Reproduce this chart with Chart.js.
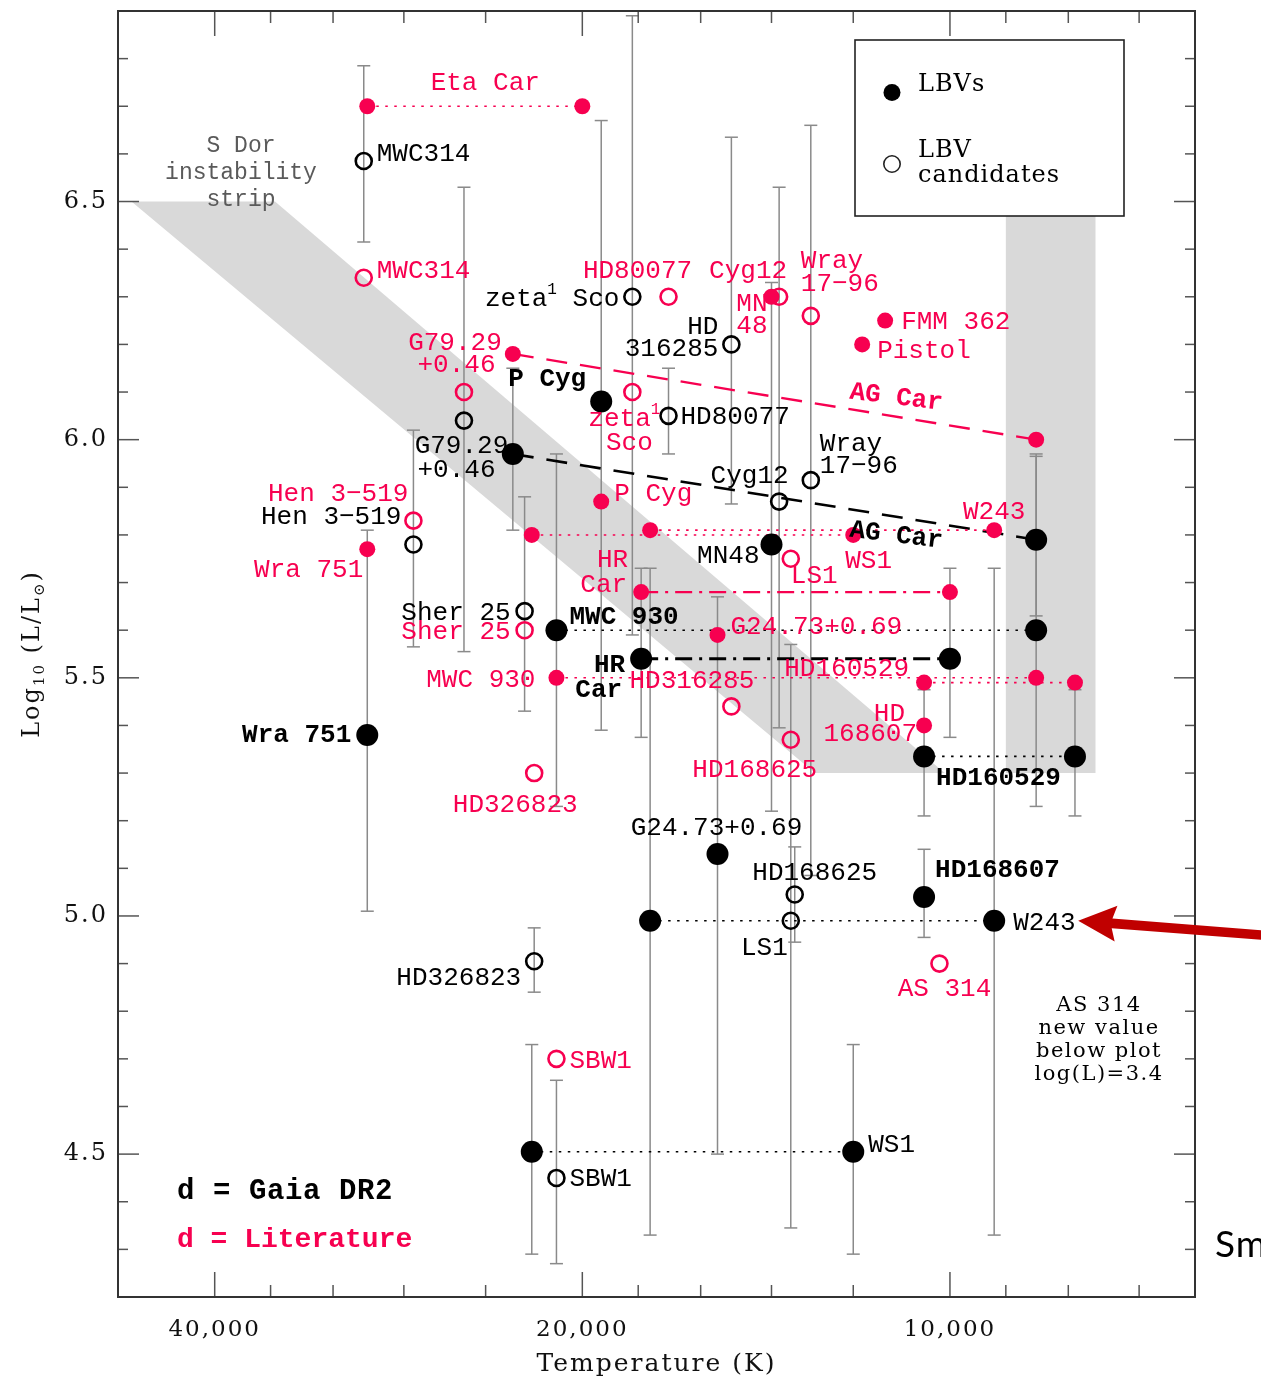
<!DOCTYPE html>
<html>
<head>
<meta charset="utf-8">
<script src="https://cdn.jsdelivr.net/npm/chart.js@4.4.1/dist/chart.umd.min.js"></script>
<style>
  html, body { margin: 0; padding: 0; background: #fff; overflow: hidden; }
  canvas { display: block; }
</style>
</head>
<body>
<canvas id="hrd" width="1261" height="1382"></canvas>
<script>
// ---------------- axes ----------------
const tempTicks = [40000, 36000, 32000, 28000, 24000, 20000, 18000, 16000, 14000, 12000, 10000, 9000, 8000, 7000];
const tempTickLabels = { 40000: '40,000', 20000: '20,000', 10000: '10,000' };
const lumTicks = [4.5, 5.0, 5.5, 6.0, 6.5];
const lumTickLabels = ['4.5', '5.0', '5.5', '6.0', '6.5'];

// ---------------- LBVs, Gaia DR2 distances ----------------
const lbvGaiaNames = ['Wra 751', 'AG Car', 'AG Car', 'P Cyg', 'MN48', 'MWC 930', 'MWC 930', 'HR Car', 'HR Car',
  'G24.73+0.69', 'HD160529', 'HD160529', 'HD168607', 'W243', 'W243', 'WS1', 'WS1'];
const lbvGaiaTemp = [30000, 22800, 8500, 19300, 14000, 21000, 8500, 17900, 10000, 15500, 10500, 7900, 10500, 17600, 9200, 22000, 12000];
const lbvGaiaLum = [5.38, 5.97, 5.79, 6.08, 5.78, 5.60, 5.60, 5.54, 5.54, 5.13, 5.335, 5.335, 5.04, 4.99, 4.99, 4.505, 4.505];
const lbvGaiaLumLo = [5.01, 5.81, 5.63, 5.39, 5.22, 5.23, 5.23, 5.375, 5.375, 4.50, 5.21, 5.21, 4.955, 4.33, 4.33, 4.29, 4.29];
const lbvGaiaLumHi = [5.81, 6.15, 5.965, 6.67, 6.33, 5.97, 5.97, 5.73, 5.73, 5.67, 5.475, 5.475, 5.14, 5.73, 5.73, 4.73, 4.73];

// ---------------- LBV candidates, Gaia DR2 distances ----------------
const candGaiaNames = ['MWC314', 'Hen 3-519', 'G79.29+0.46', 'Sher 25', 'zeta1 Sco', 'HD80077', 'HD316285', 'Cyg12',
  'Wray 17-96', 'LS1', 'HD168625', 'HD326823', 'SBW1'];
const candGaiaTemp = [30200, 27500, 25000, 22300, 18200, 17000, 15100, 13800, 13000, 13500, 13400, 21900, 21000];
const candGaiaLum = [6.585, 5.78, 6.04, 5.64, 6.30, 6.05, 6.20, 5.87, 5.915, 4.99, 5.045, 4.905, 4.45];
const candGaiaLumLo = [6.415, 5.565, 5.555, 5.43, 5.59, 5.97, 5.865, 5.395, 5.085, 4.345, 4.945, 4.84, 4.27];
const candGaiaLumHi = [6.785, 6.02, 6.53, 5.88, 6.89, 6.15, 6.635, 6.53, 6.66, 5.57, 5.145, 4.975, 4.655];

// ---------------- LBVs, literature distances ----------------
const lbvLitNames = ['Eta Car', 'Eta Car', 'AG Car', 'AG Car', 'Wra 751', 'P Cyg', 'WS1', 'WS1', 'W243', 'W243', 'HR Car', 'HR Car',
  'G24.73+0.69', 'MWC 930', 'MWC 930', 'HD160529', 'HD160529', 'HD168607', 'FMM 362', 'Pistol', 'MN48'];
const lbvLitTemp = [30000, 20000, 22800, 8500, 30000, 19300, 22000, 12000, 17600, 9200, 17900, 10000,
  15500, 21000, 8500, 10500, 7900, 10500, 11300, 11800, 14000];
const lbvLitLum = [6.70, 6.70, 6.18, 6.00, 5.77, 5.87, 5.80, 5.80, 5.81, 5.81, 5.68, 5.68,
  5.59, 5.50, 5.50, 5.49, 5.49, 5.40, 6.25, 6.20, 6.30];

// ---------------- LBV candidates, literature distances ----------------
const candLitNames = ['MWC314', 'HD80077', 'Cyg12', 'Wray 17-96', 'G79.29+0.46', 'zeta1 Sco', 'HD316285', 'Hen 3-519',
  'Sher 25', 'HD326823', 'LS1', 'HD168625', 'SBW1', 'AS 314'];
const candLitTemp = [30200, 17000, 13800, 13000, 25000, 18200, 15100, 27500, 22300, 21900, 13500, 13500, 21000, 10200];
const candLitLum = [6.34, 6.30, 6.30, 6.26, 6.10, 6.10, 5.44, 5.83, 5.60, 5.30, 5.75, 5.37, 4.70, 4.90];

// ---------------- S Dor instability strip ----------------
const stripTemp = [46800, 35700, 10100, 12900];
const stripLum = [6.5, 6.5, 5.3, 5.3];
const coolBandTemp = [9000, 7600, 7600, 9000];
const coolBandLum = [6.5, 6.5, 5.3, 5.3];

// stars observed in two states, joined by a line
const lbvLitLinks = [['Eta Car', 'dot'], ['AG Car', 'dash'], ['WS1', 'dot'], ['W243', 'dot'],
  ['HR Car', 'dashdot'], ['MWC 930', 'dot'], ['HD160529', 'dot']];
const lbvGaiaLinks = [['AG Car', 'dash'], ['HR Car', 'dashdot'], ['MWC 930', 'dot'], ['HD160529', 'dot'],
  ['W243', 'dot'], ['WS1', 'dot']];

// ---------------- styling ----------------
const PINK = '#f70050';
const INK = '#000000';
const BAR = '#8a8a8a';
const MONO = '"Liberation Mono", "DejaVu Sans Mono", monospace';
const SERIF = '"DejaVu Serif", "Liberation Serif", serif';

const sets = {
  gl: { names: lbvGaiaNames, temp: lbvGaiaTemp, lum: lbvGaiaLum },
  gc: { names: candGaiaNames, temp: candGaiaTemp, lum: candGaiaLum },
  ll: { names: lbvLitNames, temp: lbvLitTemp, lum: lbvLitLum },
  lc: { names: candLitNames, temp: candLitTemp, lum: candLitLum }
};

function nthIndex(names, star, n) {
  let c = -1;
  for (let i = 0; i < names.length; i++) if (names[i] === star && ++c === n) return i;
  return -1;
}

const dashes = {
  dot: [2.5, 6.5],
  dash: [21, 13],
  dashdot: [17, 7, 3, 7]
};

function linkDatasets(set, links, color, widths) {
  return links.map(([star, style]) => {
    const a = nthIndex(set.names, star, 0), b = nthIndex(set.names, star, 1);
    return {
      type: 'line',
      label: star,
      data: [{ x: set.temp[a], y: set.lum[a] }, { x: set.temp[b], y: set.lum[b] }],
      borderColor: color,
      borderWidth: widths[style],
      borderDash: dashes[style],
      pointRadius: 0,
      pointHoverRadius: 0,
      fill: false,
      tension: 0,
      order: 5
    };
  });
}

const points = (t, l) => t.map((v, i) => ({ x: v, y: l[i] }));

const datasets = [
  ...linkDatasets(sets.ll, lbvLitLinks, PINK, { dot: 1.6, dash: 2.4, dashdot: 2.2 }),
  ...linkDatasets(sets.gl, lbvGaiaLinks, INK, { dot: 1.6, dash: 2.6, dashdot: 3.2 }),
  {
    label: 'LBVs (Gaia DR2)', data: points(lbvGaiaTemp, lbvGaiaLum),
    pointRadius: 11, pointHoverRadius: 11, pointBackgroundColor: INK, pointBorderColor: INK, pointBorderWidth: 0, order: 4
  },
  {
    label: 'LBV candidates (Gaia DR2)', data: points(candGaiaTemp, candGaiaLum),
    pointRadius: 8, pointHoverRadius: 8, pointBackgroundColor: 'rgba(0,0,0,0)', pointBorderColor: INK, pointBorderWidth: 2.6, order: 3
  },
  {
    label: 'LBVs (literature)', data: points(lbvLitTemp, lbvLitLum),
    pointRadius: 8, pointHoverRadius: 8, pointBackgroundColor: PINK, pointBorderColor: PINK, pointBorderWidth: 0, order: 2
  },
  {
    label: 'LBV candidates (literature)', data: points(candLitTemp, candLitLum),
    pointRadius: 8, pointHoverRadius: 8, pointBackgroundColor: 'rgba(0,0,0,0)', pointBorderColor: PINK, pointBorderWidth: 2.6, order: 1
  }
];

// ---------------- star labels: [set, star, occurrence, text, dx, dy, align, colour, bold, rotation] ----------------
const starLabels = [
  ['gl', 'Wra 751', 0, 'Wra 751', -16, 0, 'right', 'k', 1],
  ['gl', 'AG Car', 1, 'AG Car', -140, -4, 'center', 'k', 1, 7],
  ['gl', 'P Cyg', 0, 'P Cyg', -15, -22, 'right', 'k', 1],
  ['gl', 'MN48', 0, 'MN48', -12, 12, 'right', 'k', 0],
  ['gl', 'MWC 930', 0, 'MWC 930', 13, -13, 'left', 'k', 1],
  ['gl', 'HR Car', 0, 'HR', -16, 7, 'right', 'k', 1],
  ['gl', 'HR Car', 0, 'Car', -19, 32, 'right', 'k', 1],
  ['gl', 'G24.73+0.69', 0, 'G24.73+0.69', -1, -26, 'center', 'k', 0],
  ['gl', 'HD160529', 0, 'HD160529', 12, 22, 'left', 'k', 1],
  ['gl', 'HD168607', 0, 'HD168607', 11, -26, 'left', 'k', 1],
  ['gl', 'W243', 1, 'W243', 19, 2, 'left', 'k', 0],
  ['gl', 'WS1', 1, 'WS1', 15, -7, 'left', 'k', 0],

  ['gc', 'MWC314', 0, 'MWC314', 13, -7, 'left', 'k', 0],
  ['gc', 'Hen 3-519', 0, 'Hen 3\u2212519', -12, -27, 'right', 'k', 0],
  ['gc', 'G79.29+0.46', 0, 'G79.29', -2.5, 25, 'center', 'k', 0],
  ['gc', 'G79.29+0.46', 0, '+0.46', -7.5, 49, 'center', 'k', 0],
  ['gc', 'Sher 25', 0, 'Sher 25', -14, 2, 'right', 'k', 0],
  ['gc', 'zeta1 Sco', 0, 'zeta^{1} Sco', -13, 2, 'right', 'k', 0],
  ['gc', 'HD80077', 0, 'HD80077', 12, 1, 'left', 'k', 0],
  ['gc', 'HD316285', 0, 'HD', -13, -17, 'right', 'k', 0],
  ['gc', 'HD316285', 0, '316285', -13, 5, 'right', 'k', 0],
  ['gc', 'Cyg12', 0, 'Cyg12', -29.5, -25, 'center', 'k', 0],
  ['gc', 'Wray 17-96', 0, 'Wray', 9, -36, 'left', 'k', 0],
  ['gc', 'Wray 17-96', 0, '17\u221296', 9, -14, 'left', 'k', 0],
  ['gc', 'LS1', 0, 'LS1', -3, 27, 'right', 'k', 0],
  ['gc', 'HD168625', 0, 'HD168625', 20, -21, 'center', 'k', 0],
  ['gc', 'HD326823', 0, 'HD326823', -13, 17, 'right', 'k', 0],
  ['gc', 'SBW1', 0, 'SBW1', 13, 1, 'left', 'k', 0],

  ['ll', 'Eta Car', 0, 'Eta Car', 118, -23, 'center', 'r', 0],
  ['ll', 'AG Car', 1, 'AG Car', -140, -42, 'center', 'r', 1, 7],
  ['ll', 'Wra 751', 0, 'Wra 751', -4, 21, 'right', 'r', 0],
  ['ll', 'P Cyg', 0, 'P Cyg', 13, -7, 'left', 'r', 0],
  ['ll', 'WS1', 1, 'WS1', -8, 26, 'left', 'r', 0],
  ['ll', 'W243', 1, 'W243', 0, -18, 'center', 'r', 0],
  ['ll', 'HR Car', 0, 'HR', -13, -32, 'right', 'r', 0],
  ['ll', 'HR Car', 0, 'Car', -14, -7, 'right', 'r', 0],
  ['ll', 'G24.73+0.69', 0, 'G24.73+0.69', 13, -8, 'left', 'r', 0],
  ['ll', 'MWC 930', 0, 'MWC 930', -21, 2, 'right', 'r', 0],
  ['ll', 'HD160529', 0, 'HD160529', -15, -13, 'right', 'r', 0],
  ['ll', 'HD168607', 0, 'HD', -19, -11, 'right', 'r', 0],
  ['ll', 'HD168607', 0, '168607', -7, 9, 'right', 'r', 0],
  ['ll', 'FMM 362', 0, 'FMM 362', 16, 2, 'left', 'r', 0],
  ['ll', 'Pistol', 0, 'Pistol', 15, 7, 'left', 'r', 0],
  ['ll', 'MN48', 0, 'MN', -4, 7, 'right', 'r', 0],
  ['ll', 'MN48', 0, '48', -4, 29, 'right', 'r', 0],

  ['lc', 'MWC314', 0, 'MWC314', 13, -7, 'left', 'r', 0],
  ['lc', 'HD80077', 0, 'HD80077', -31, -26, 'center', 'r', 0],
  ['lc', 'Cyg12', 0, 'Cyg12', -31, -26, 'center', 'r', 0],
  ['lc', 'Wray 17-96', 0, 'Wray', -10, -55, 'left', 'r', 0],
  ['lc', 'Wray 17-96', 0, '17\u221296', -10, -32, 'left', 'r', 0],
  ['lc', 'G79.29+0.46', 0, 'G79.29', -9, -49, 'center', 'r', 0],
  ['lc', 'G79.29+0.46', 0, '+0.46', -7.5, -27, 'center', 'r', 0],
  ['lc', 'zeta1 Sco', 0, 'zeta^{1}', -8, 27, 'center', 'r', 0],
  ['lc', 'zeta1 Sco', 0, 'Sco', -3, 51, 'center', 'r', 0],
  ['lc', 'HD316285', 0, 'HD316285', -39.5, -25, 'center', 'r', 0],
  ['lc', 'Hen 3-519', 0, 'Hen 3\u2212519', -5, -27, 'right', 'r', 0],
  ['lc', 'Sher 25', 0, 'Sher 25', -14, 2, 'right', 'r', 0],
  ['lc', 'HD326823', 0, 'HD326823', -19, 32, 'center', 'r', 0],
  ['lc', 'LS1', 0, 'LS1', 0, 17, 'left', 'r', 0],
  ['lc', 'HD168625', 0, 'HD168625', -36, 30, 'center', 'r', 0],
  ['lc', 'SBW1', 0, 'SBW1', 13, 2, 'left', 'r', 0],
  ['lc', 'AS 314', 0, 'AS 314', 5, 26, 'center', 'r', 0]
];

// ---------------- text helpers ----------------
function parseRich(s) {
  const parts = [];
  const re = /([\^_])\{([^}]*)\}/g;
  let last = 0, m;
  while ((m = re.exec(s))) {
    if (m.index > last) parts.push({ t: s.slice(last, m.index) });
    parts.push({ t: m[2], sup: m[1] === '^', sub: m[1] === '_' });
    last = re.lastIndex;
  }
  if (last < s.length) parts.push({ t: s.slice(last) });
  return parts;
}

function drawRich(ctx, s, x, y, o) {
  const size = o.size, weight = o.weight || 'normal', scale = o.scriptScale || 0.6;
  const parts = parseRich(s);
  const fontFor = p => `${weight} ${(p.sup || p.sub) ? Math.round(size * scale) : size}px ${o.family}`;
  ctx.letterSpacing = (o.spacing || 0) + 'px';
  let w = 0;
  for (const p of parts) { ctx.font = fontFor(p); p.w = ctx.measureText(p.t).width; w += p.w; }
  let cx = o.align === 'right' ? x - w : o.align === 'center' ? x - w / 2 : x;
  ctx.fillStyle = o.color;
  ctx.textAlign = 'left';
  ctx.textBaseline = 'middle';
  for (const p of parts) {
    ctx.font = fontFor(p);
    const oy = p.sup ? -size * 0.36 : p.sub ? size * 0.3 : 0;
    ctx.fillText(p.t, cx, y + oy);
    cx += p.w;
  }
}

function line(ctx, x1, y1, x2, y2) {
  ctx.beginPath(); ctx.moveTo(x1, y1); ctx.lineTo(x2, y2); ctx.stroke();
}

function fillPolygon(ctx, xs, ys, sx, sy, color) {
  ctx.beginPath();
  xs.forEach((t, i) => {
    const X = sx.getPixelForValue(t), Y = sy.getPixelForValue(ys[i]);
    if (i === 0) ctx.moveTo(X, Y); else ctx.lineTo(X, Y);
  });
  ctx.closePath();
  ctx.fillStyle = color;
  ctx.fill();
}

function drawErrorBars(ctx, sx, sy, temp, lo, hi) {
  ctx.strokeStyle = BAR;
  ctx.lineWidth = 1.5;
  temp.forEach((t, i) => {
    const X = sx.getPixelForValue(t);
    const y1 = sy.getPixelForValue(lo[i]), y2 = sy.getPixelForValue(hi[i]);
    line(ctx, X, y1, X, y2);
    line(ctx, X - 6.5, y1, X + 6.5, y1);
    line(ctx, X - 6.5, y2, X + 6.5, y2);
  });
}

// ---------------- plugin: strip, error bars, labels, frame ----------------
const hrdDecor = {
  id: 'hrdDecor',
  beforeDraw(chart) {
    chart.ctx.letterSpacing = '2px';
  },
  beforeDatasetsDraw(chart) {
    const { ctx, chartArea: a, scales: { x, y } } = chart;
    ctx.save();
    ctx.letterSpacing = '0px';
    ctx.beginPath();
    ctx.rect(a.left, a.top, a.right - a.left, a.bottom - a.top);
    ctx.clip();
    fillPolygon(ctx, stripTemp, stripLum, x, y, '#d9d9d9');
    fillPolygon(ctx, coolBandTemp, coolBandLum, x, y, '#d9d9d9');
    drawErrorBars(ctx, x, y, lbvGaiaTemp, lbvGaiaLumLo, lbvGaiaLumHi);
    drawErrorBars(ctx, x, y, candGaiaTemp, candGaiaLumLo, candGaiaLumHi);
    ctx.restore();
  },
  afterDatasetsDraw(chart) {
    const { ctx, chartArea: a, scales: { x, y } } = chart;
    ctx.save();
    ctx.letterSpacing = '0px';

    // star labels
    for (const [sk, star, n, text, dx, dy, align, col, bold, rot] of starLabels) {
      const s = sets[sk];
      const i = nthIndex(s.names, star, n);
      const X = x.getPixelForValue(s.temp[i]) + dx;
      const Y = y.getPixelForValue(s.lum[i]) + dy;
      const opts = { size: 26, family: MONO, weight: bold ? 'bold' : 'normal', align, color: col === 'r' ? PINK : INK };
      if (rot) {
        ctx.save(); ctx.translate(X, Y); ctx.rotate(rot * Math.PI / 180);
        drawRich(ctx, text, 0, 0, opts);
        ctx.restore();
      } else {
        drawRich(ctx, text, X, Y, opts);
      }
    }

    // strip caption
    const grey = { size: 23, family: MONO, align: 'center', color: '#5a5a5a' };
    drawRich(ctx, 'S Dor', a.left + 123, a.top + 135, grey);
    drawRich(ctx, 'instability', a.left + 123, a.top + 162, grey);
    drawRich(ctx, 'strip', a.left + 123, a.top + 189, grey);

    // distance key
    drawRich(ctx, 'd = Gaia DR2', a.left + 59, a.bottom - 105, { size: 29, family: MONO, weight: 'bold', align: 'left', color: INK, spacing: 0.6 });
    drawRich(ctx, 'd = Literature', a.left + 59, a.bottom - 57, { size: 28, family: MONO, weight: 'bold', align: 'left', color: PINK });

    // note on AS 314
    const note = { size: 21, family: SERIF, align: 'center', color: INK, spacing: 1.5 };
    ['AS 314', 'new value', 'below plot', 'log(L)=3.4'].forEach((t, k) => {
      drawRich(ctx, t, a.right - 96, a.top + 995 + k * 22.8, note);
    });

    // legend box
    const bx = a.right - 340, by = a.top + 29, bw = 269, bh = 176;
    ctx.fillStyle = '#fff';
    ctx.fillRect(bx, by, bw, bh);
    ctx.strokeStyle = '#222';
    ctx.lineWidth = 1.6;
    ctx.strokeRect(bx, by, bw, bh);
    ctx.fillStyle = INK;
    ctx.beginPath(); ctx.arc(bx + 37, by + 52.5, 8.5, 0, Math.PI * 2); ctx.fill();
    ctx.lineWidth = 1.6;
    ctx.beginPath(); ctx.arc(bx + 37, by + 124, 8.2, 0, Math.PI * 2); ctx.stroke();
    const leg = { size: 24, family: SERIF, align: 'left', color: INK, spacing: 1 };
    drawRich(ctx, 'LBVs', bx + 63, by + 45, leg);
    drawRich(ctx, 'LBV', bx + 63, by + 111, leg);
    drawRich(ctx, 'candidates', bx + 63, by + 136, leg);

    // frame and inward ticks
    ctx.strokeStyle = '#555';
    ctx.lineWidth = 1.5;
    for (const t of tempTicks) {
      const X = x.getPixelForValue(t);
      const L = tempTickLabels[t] ? 25 : 12;
      line(ctx, X, a.bottom, X, a.bottom - L);
      line(ctx, X, a.top, X, a.top + L);
    }
    for (let k = 43; k <= 68; k++) {
      const v = k / 10;
      const Y = y.getPixelForValue(v);
      const L = k % 5 === 0 ? 21 : 10;
      line(ctx, a.left, Y, a.left + L, Y);
      line(ctx, a.right, Y, a.right - L, Y);
    }
    ctx.strokeStyle = '#333';
    ctx.lineWidth = 2;
    ctx.strokeRect(a.left, a.top, a.right - a.left, a.bottom - a.top);

    // y axis title
    ctx.save();
    ctx.translate(33, (a.top + a.bottom) / 2);
    ctx.rotate(-Math.PI / 2);
    drawRich(ctx, 'Log_{10} (L/L_{\u2299})', 0, 0, { size: 24, family: SERIF, align: 'center', color: '#111', spacing: 2, scriptScale: 0.62 });
    ctx.restore();

    // arrow pointing at W243
    const wi = nthIndex(lbvGaiaNames, 'W243', 1);
    const tipX = x.getPixelForValue(lbvGaiaTemp[wi]) + 84;
    const tipY = y.getPixelForValue(lbvGaiaLum[wi]);
    const tailX = tipX + 270, tailY = tipY + 21;
    const ang = Math.atan2(tailY - tipY, tailX - tipX);
    ctx.save();
    ctx.translate(tipX, tipY);
    ctx.rotate(ang);
    ctx.fillStyle = '#c00000';
    ctx.beginPath();
    ctx.moveTo(0, 0);
    ctx.lineTo(38, -18);
    ctx.lineTo(34, -4.8);
    ctx.lineTo(300, -4.8);
    ctx.lineTo(300, 4.8);
    ctx.lineTo(34, 4.8);
    ctx.lineTo(38, 18);
    ctx.closePath();
    ctx.fill();
    ctx.restore();

    // caption fragment at the right margin
    ctx.font = '37px Lato, "Open Sans", sans-serif';
    ctx.fillStyle = '#000';
    ctx.textAlign = 'left';
    ctx.textBaseline = 'alphabetic';
    ctx.fillText('Sm', a.right + 20, a.bottom - 40);

    ctx.restore();
  }
};

new Chart(document.getElementById('hrd'), {
  type: 'scatter',
  data: { datasets },
  options: {
    responsive: false,
    animation: false,
    layout: { padding: { left: 0, right: 66, top: 7, bottom: 0 } },
    plugins: { legend: { display: false }, tooltip: { enabled: false } },
    scales: {
      x: {
        type: 'logarithmic',
        reverse: true,
        min: 6300,
        max: 48000,
        position: 'bottom',
        afterBuildTicks: s => { s.ticks = tempTicks.map(v => ({ value: v })); },
        afterFit: s => { s.height = 85; s.paddingLeft = 0; s.paddingRight = 0; },
        grid: { display: false, drawTicks: false },
        border: { display: false },
        ticks: {
          autoSkip: false, maxRotation: 0, minRotation: 0, padding: 19, color: '#111',
          font: { family: SERIF, size: 23 },
          callback: v => tempTickLabels[v] || ''
        },
        title: {
          display: true, text: 'Temperature (K)', color: '#111',
          font: { family: SERIF, size: 25 }, padding: { top: 0, bottom: 3 }
        }
      },
      y: {
        type: 'linear',
        min: 4.2,
        max: 6.9,
        afterBuildTicks: s => { s.ticks = lumTicks.map(v => ({ value: v })); },
        afterFit: s => { s.width = 118; s.paddingTop = 0; s.paddingBottom = 0; },
        grid: { display: false, drawTicks: false },
        border: { display: false },
        ticks: {
          padding: 10, color: '#111',
          font: { family: SERIF, size: 24 },
          callback: v => lumTickLabels[lumTicks.indexOf(v)] ?? ''
        }
      }
    }
  },
  plugins: [hrdDecor]
});
</script>
</body>
</html>
